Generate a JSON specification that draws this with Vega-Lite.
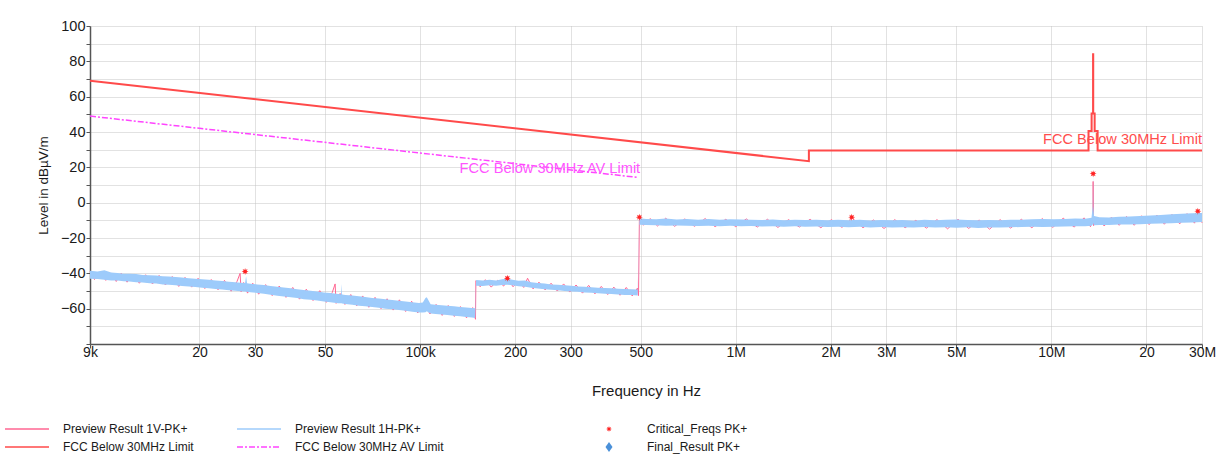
{
  "$schema": "https://vega.github.io/schema/vega-lite/v6.json",
  "width": 1112,
  "height": 318,
  "autosize": {"type": "none"},
  "padding": {"left": 90, "top": 26, "right": 29, "bottom": 114},
  "background": "white",
  "config": {
    "view": {"stroke": null},
    "font": "Liberation Sans",
    "axis": {
      "labelFont": "Liberation Sans",
      "titleFont": "Liberation Sans",
      "titleFontWeight": "normal",
      "labelColor": "#1a1a1a",
      "titleColor": "#1a1a1a",
      "domainColor": "#555555",
      "domainWidth": 1.5,
      "tickColor": "#555555",
      "tickSize": 4,
      "gridColor": "#c4c4c4",
      "gridDash": [1, 1],
      "gridWidth": 1
    }
  },
  "datasets": {
    "h": [
      {"f": 9000, "lo": -43, "hi": -38.5}, {"f": 9500, "lo": -43.2, "hi": -39}, {"f": 10000, "lo": -43.6, "hi": -38.3},
      {"f": 10500, "lo": -44, "hi": -39.5}, {"f": 11000, "lo": -44.1, "hi": -39.8}, {"f": 11500, "lo": -44.5, "hi": -40.2},
      {"f": 12000, "lo": -44.6, "hi": -40.3}, {"f": 12600, "lo": -45, "hi": -40.4}, {"f": 13200, "lo": -45.2, "hi": -40.9},
      {"f": 13900, "lo": -45.6, "hi": -41.1}, {"f": 14600, "lo": -45.8, "hi": -41.2}, {"f": 15300, "lo": -46.3, "hi": -41.6},
      {"f": 16000, "lo": -46.5, "hi": -41.8}, {"f": 16800, "lo": -46.8, "hi": -42.1}, {"f": 17600, "lo": -47.1, "hi": -42.4},
      {"f": 18500, "lo": -47.4, "hi": -42.8}, {"f": 19400, "lo": -47.8, "hi": -43}, {"f": 20400, "lo": -48.2, "hi": -43.3},
      {"f": 21400, "lo": -48.4, "hi": -43.7}, {"f": 22500, "lo": -48.9, "hi": -44}, {"f": 23600, "lo": -49.2, "hi": -44.3},
      {"f": 24800, "lo": -49.6, "hi": -44.8}, {"f": 26000, "lo": -49.9, "hi": -45}, {"f": 27000, "lo": -50.1, "hi": -45.4},
      {"f": 27900, "lo": -50.3, "hi": -45.5}, {"f": 28100, "lo": -50.4, "hi": -41.6}, {"f": 28300, "lo": -50.4, "hi": -45.6},
      {"f": 29000, "lo": -50.7, "hi": -45.9}, {"f": 30500, "lo": -51.1, "hi": -46.3}, {"f": 32000, "lo": -51.6, "hi": -46.6},
      {"f": 33600, "lo": -52.1, "hi": -47.1}, {"f": 35300, "lo": -52.7, "hi": -47.6}, {"f": 37000, "lo": -53.1, "hi": -48},
      {"f": 38900, "lo": -53.5, "hi": -48.5}, {"f": 40800, "lo": -54, "hi": -49}, {"f": 42800, "lo": -54.6, "hi": -49.4},
      {"f": 45000, "lo": -55, "hi": -49.9}, {"f": 47200, "lo": -55.4, "hi": -50.3}, {"f": 49600, "lo": -56, "hi": -50.8},
      {"f": 52000, "lo": -56.4, "hi": -51.2}, {"f": 55000, "lo": -56.9, "hi": -51.7}, {"f": 56200, "lo": -57, "hi": -51.9},
      {"f": 56400, "lo": -57, "hi": -46}, {"f": 56600, "lo": -57.1, "hi": -52}, {"f": 58000, "lo": -57.3, "hi": -52.2},
      {"f": 61000, "lo": -57.8, "hi": -52.6}, {"f": 64000, "lo": -58.3, "hi": -53}, {"f": 67000, "lo": -58.6, "hi": -53.4},
      {"f": 70500, "lo": -59.1, "hi": -53.9}, {"f": 74000, "lo": -59.5, "hi": -54.3}, {"f": 77700, "lo": -60, "hi": -54.7},
      {"f": 81600, "lo": -60.4, "hi": -55.1}, {"f": 85700, "lo": -60.8, "hi": -55.5}, {"f": 90000, "lo": -61.2, "hi": -55.9},
      {"f": 94500, "lo": -61.7, "hi": -56.4}, {"f": 99200, "lo": -62.1, "hi": -56.8}, {"f": 102000, "lo": -62.2, "hi": -56.5},
      {"f": 104000, "lo": -62, "hi": -54}, {"f": 105000, "lo": -61.5, "hi": -53.5}, {"f": 106500, "lo": -62.2, "hi": -55.5},
      {"f": 108000, "lo": -62.7, "hi": -57.5}, {"f": 112000, "lo": -63, "hi": -57.8}, {"f": 117000, "lo": -63.3, "hi": -58.1},
      {"f": 122000, "lo": -63.6, "hi": -58.4}, {"f": 128000, "lo": -64, "hi": -58.7}, {"f": 134000, "lo": -64.3, "hi": -59},
      {"f": 140000, "lo": -64.7, "hi": -59.3}, {"f": 146000, "lo": -65, "hi": -59.6}, {"f": 149500, "lo": -65.3, "hi": -59.8},
      {"f": 150500, "lo": -47, "hi": -43.8}, {"f": 158000, "lo": -47.2, "hi": -44}, {"f": 166000, "lo": -46.8, "hi": -43.6},
      {"f": 174000, "lo": -47, "hi": -44}, {"f": 182000, "lo": -46.6, "hi": -43.4}, {"f": 189000, "lo": -46.4, "hi": -43},
      {"f": 196000, "lo": -46.8, "hi": -43.6}, {"f": 205000, "lo": -47.3, "hi": -44.2}, {"f": 215000, "lo": -47.6, "hi": -44},
      {"f": 225000, "lo": -48.2, "hi": -45}, {"f": 236000, "lo": -48.6, "hi": -45.5}, {"f": 248000, "lo": -49, "hi": -45.8},
      {"f": 260000, "lo": -49.3, "hi": -46.3}, {"f": 273000, "lo": -49.6, "hi": -46.5}, {"f": 287000, "lo": -50, "hi": -46.8},
      {"f": 301000, "lo": -50.3, "hi": -47}, {"f": 316000, "lo": -50.4, "hi": -47.4}, {"f": 332000, "lo": -50.8, "hi": -47.6},
      {"f": 349000, "lo": -51, "hi": -47.9}, {"f": 366000, "lo": -51.3, "hi": -48.1}, {"f": 385000, "lo": -51.5, "hi": -48.3},
      {"f": 404000, "lo": -51.7, "hi": -48.5}, {"f": 424000, "lo": -52, "hi": -48.7}, {"f": 445000, "lo": -52.2, "hi": -48.8},
      {"f": 467000, "lo": -52.3, "hi": -49}, {"f": 489000, "lo": -52.5, "hi": -49.1},
      {"f": 495500, "lo": -12.5, "hi": -8.8}, {"f": 520000, "lo": -12.6, "hi": -9.2}, {"f": 560000, "lo": -12.8, "hi": -9.4},
      {"f": 600000, "lo": -13, "hi": -9}, {"f": 650000, "lo": -12.9, "hi": -9.5}, {"f": 700000, "lo": -13.1, "hi": -9.3},
      {"f": 760000, "lo": -13.2, "hi": -9.6}, {"f": 820000, "lo": -13, "hi": -9.2}, {"f": 890000, "lo": -13.3, "hi": -9.7},
      {"f": 960000, "lo": -13.1, "hi": -9.4}, {"f": 1040000, "lo": -13.4, "hi": -9.5}, {"f": 1120000, "lo": -13.2, "hi": -9.6},
      {"f": 1210000, "lo": -13.5, "hi": -9.8}, {"f": 1310000, "lo": -13.3, "hi": -9.5}, {"f": 1420000, "lo": -13.6, "hi": -9.9},
      {"f": 1540000, "lo": -13.4, "hi": -9.7}, {"f": 1660000, "lo": -13.7, "hi": -9.8}, {"f": 1800000, "lo": -13.5, "hi": -9.6},
      {"f": 1950000, "lo": -13.8, "hi": -10}, {"f": 2110000, "lo": -13.6, "hi": -9.7}, {"f": 2280000, "lo": -13.9, "hi": -9.9},
      {"f": 2470000, "lo": -13.7, "hi": -9.6}, {"f": 2670000, "lo": -14, "hi": -10.1}, {"f": 2890000, "lo": -13.8, "hi": -9.8},
      {"f": 3130000, "lo": -14.1, "hi": -10}, {"f": 3380000, "lo": -13.9, "hi": -9.8}, {"f": 3660000, "lo": -14, "hi": -10.2},
      {"f": 3960000, "lo": -13.8, "hi": -9.7}, {"f": 4280000, "lo": -14.1, "hi": -9.9}, {"f": 4630000, "lo": -13.9, "hi": -9.6},
      {"f": 5010000, "lo": -14.2, "hi": -9.5}, {"f": 5420000, "lo": -13.9, "hi": -9.8}, {"f": 5860000, "lo": -14.3, "hi": -10},
      {"f": 6340000, "lo": -14, "hi": -9.8}, {"f": 6860000, "lo": -14.1, "hi": -9.9}, {"f": 7420000, "lo": -13.9, "hi": -9.6},
      {"f": 8030000, "lo": -13.8, "hi": -9.7}, {"f": 8690000, "lo": -13.7, "hi": -9.4}, {"f": 9400000, "lo": -13.8, "hi": -9.3},
      {"f": 10170000, "lo": -13.6, "hi": -9.4}, {"f": 11000000, "lo": -13.5, "hi": -9.2}, {"f": 11900000, "lo": -13.3, "hi": -9},
      {"f": 12800000, "lo": -13.4, "hi": -9.1}, {"f": 13400000, "lo": -13, "hi": -8.6}, {"f": 13520000, "lo": -12.5, "hi": -2},
      {"f": 13555000, "lo": -11.5, "hi": 16.4}, {"f": 13575000, "lo": -12, "hi": -2}, {"f": 13650000, "lo": -12.8, "hi": -7.5},
      {"f": 14200000, "lo": -12.7, "hi": -8.3}, {"f": 15200000, "lo": -12.6, "hi": -8.4}, {"f": 16400000, "lo": -12.4, "hi": -8},
      {"f": 17700000, "lo": -12.3, "hi": -7.9}, {"f": 19100000, "lo": -12.2, "hi": -7.6}, {"f": 20600000, "lo": -12, "hi": -7.3},
      {"f": 22200000, "lo": -11.8, "hi": -7}, {"f": 24000000, "lo": -11.6, "hi": -6.5}, {"f": 25900000, "lo": -11.4, "hi": -6.3},
      {"f": 27900000, "lo": -11.2, "hi": -6}, {"f": 30000000, "lo": -11, "hi": -5.9}
    ],
    "p": [
      {"f": 9000, "v": -38.8}, {"f": 9300, "v": -43.5}, {"f": 9700, "v": -39.2}, {"f": 10100, "v": -44}, {"f": 10500, "v": -39.8},
      {"f": 10900, "v": -44.6}, {"f": 11300, "v": -40}, {"f": 11800, "v": -45}, {"f": 12300, "v": -40.4}, {"f": 12900, "v": -45.6},
      {"f": 13500, "v": -40.8}, {"f": 14200, "v": -46}, {"f": 14900, "v": -41.2}, {"f": 15600, "v": -46.6}, {"f": 16400, "v": -41.8},
      {"f": 17200, "v": -47.4}, {"f": 18000, "v": -42.3}, {"f": 18900, "v": -47.8}, {"f": 19800, "v": -42.8}, {"f": 20800, "v": -48.6},
      {"f": 21800, "v": -43.5}, {"f": 22900, "v": -49.3}, {"f": 24000, "v": -44}, {"f": 25200, "v": -50.1}, {"f": 26300, "v": -44.6},
      {"f": 26900, "v": -40}, {"f": 27100, "v": -50.4}, {"f": 27600, "v": -45.2}, {"f": 28400, "v": -51.2}, {"f": 29500, "v": -45.6},
      {"f": 30800, "v": -51.8}, {"f": 32400, "v": -46.4}, {"f": 34000, "v": -52.6}, {"f": 35800, "v": -47.2}, {"f": 37600, "v": -53.6},
      {"f": 39500, "v": -48}, {"f": 41500, "v": -54.6}, {"f": 43600, "v": -49}, {"f": 45800, "v": -55.4}, {"f": 48100, "v": -49.8},
      {"f": 50500, "v": -56.4}, {"f": 52700, "v": -50.8}, {"f": 53800, "v": -46}, {"f": 54200, "v": -57}, {"f": 55800, "v": -51.4},
      {"f": 57800, "v": -57.6}, {"f": 60300, "v": -52}, {"f": 63000, "v": -58.4}, {"f": 65800, "v": -52.8}, {"f": 68800, "v": -59.2},
      {"f": 72000, "v": -53.6}, {"f": 75200, "v": -60}, {"f": 78600, "v": -54.4}, {"f": 82200, "v": -60.8}, {"f": 86000, "v": -55},
      {"f": 90000, "v": -61.6}, {"f": 94000, "v": -55.8}, {"f": 98300, "v": -62.4}, {"f": 102800, "v": -56.4}, {"f": 107500, "v": -63},
      {"f": 112400, "v": -57.6}, {"f": 117500, "v": -63.8}, {"f": 122800, "v": -58.2}, {"f": 128400, "v": -64.4}, {"f": 134200, "v": -58.8},
      {"f": 140300, "v": -65.2}, {"f": 146700, "v": -59.4}, {"f": 149800, "v": -66},
      {"f": 150200, "v": -44.2}, {"f": 155000, "v": -47.6}, {"f": 161000, "v": -43.6}, {"f": 168000, "v": -47.8}, {"f": 176000, "v": -44},
      {"f": 184000, "v": -47.2}, {"f": 190000, "v": -43.2}, {"f": 197000, "v": -47.6}, {"f": 205000, "v": -44.4}, {"f": 213000, "v": -48},
      {"f": 219000, "v": -42.8}, {"f": 228000, "v": -48.8}, {"f": 238000, "v": -45}, {"f": 249000, "v": -49.4}, {"f": 260000, "v": -45.6},
      {"f": 272000, "v": -50}, {"f": 285000, "v": -46}, {"f": 298000, "v": -50.6}, {"f": 312000, "v": -46.6}, {"f": 327000, "v": -51.2},
      {"f": 342000, "v": -46.8}, {"f": 358000, "v": -51.6}, {"f": 375000, "v": -47.4}, {"f": 393000, "v": -52}, {"f": 411000, "v": -47.8},
      {"f": 430000, "v": -52.4}, {"f": 450000, "v": -48}, {"f": 470000, "v": -52.8}, {"f": 488000, "v": -48.4}, {"f": 492000, "v": -52.6},
      {"f": 495200, "v": -9.2}, {"f": 510000, "v": -12.8}, {"f": 535000, "v": -9}, {"f": 565000, "v": -13.2}, {"f": 600000, "v": -8.8},
      {"f": 640000, "v": -13.4}, {"f": 690000, "v": -9.2}, {"f": 740000, "v": -13.4}, {"f": 800000, "v": -9}, {"f": 860000, "v": -13.6},
      {"f": 930000, "v": -9.4}, {"f": 1000000, "v": -13.6}, {"f": 1080000, "v": -9.2}, {"f": 1170000, "v": -13.8}, {"f": 1260000, "v": -9.4},
      {"f": 1360000, "v": -14}, {"f": 1470000, "v": -9.6}, {"f": 1590000, "v": -13.8}, {"f": 1720000, "v": -9.4}, {"f": 1860000, "v": -14.2},
      {"f": 2010000, "v": -9.6}, {"f": 2170000, "v": -14}, {"f": 2340000, "v": -8.8}, {"f": 2530000, "v": -14.2}, {"f": 2730000, "v": -9.8},
      {"f": 2950000, "v": -14.6}, {"f": 3190000, "v": -9.6}, {"f": 3440000, "v": -14.2}, {"f": 3720000, "v": -10}, {"f": 4020000, "v": -14.4},
      {"f": 4340000, "v": -9.6}, {"f": 4690000, "v": -14.8}, {"f": 5060000, "v": -9.4}, {"f": 5470000, "v": -14.6}, {"f": 5900000, "v": -9.8},
      {"f": 6370000, "v": -15}, {"f": 6880000, "v": -9.6}, {"f": 7430000, "v": -14.4}, {"f": 8030000, "v": -9.4}, {"f": 8670000, "v": -14.2},
      {"f": 9360000, "v": -9}, {"f": 10100000, "v": -14}, {"f": 10900000, "v": -8.8}, {"f": 11800000, "v": -13.8}, {"f": 12700000, "v": -8.6},
      {"f": 13300000, "v": -13.6}, {"f": 13540000, "v": -8}, {"f": 13560000, "v": 12}, {"f": 13600000, "v": -13}, {"f": 14000000, "v": -8.4},
      {"f": 14700000, "v": -13.2}, {"f": 15500000, "v": -8.2}, {"f": 16400000, "v": -12.8}, {"f": 17300000, "v": -7.8}, {"f": 18300000, "v": -12.8},
      {"f": 19300000, "v": -7.4}, {"f": 20400000, "v": -12.4}, {"f": 21600000, "v": -7}, {"f": 22800000, "v": -12.2}, {"f": 24100000, "v": -6.6},
      {"f": 25500000, "v": -12}, {"f": 26900000, "v": -6.2}, {"f": 28400000, "v": -11.6}, {"f": 29300000, "v": -5.6}, {"f": 30000000, "v": -11.4}
    ],
    "lim": [
      {"f": 9000, "v": 69}, {"f": 1705000, "v": 23.5}, {"f": 1705000, "v": 29.5}, {"f": 13110000, "v": 29.5},
      {"f": 13110000, "v": 40.5}, {"f": 13410000, "v": 40.5}, {"f": 13410000, "v": 50.5}, {"f": 13553000, "v": 50.5},
      {"f": 13553000, "v": 84}, {"f": 13567000, "v": 84}, {"f": 13567000, "v": 50.5}, {"f": 13710000, "v": 50.5},
      {"f": 13710000, "v": 40.5}, {"f": 14010000, "v": 40.5}, {"f": 14010000, "v": 29.5}, {"f": 30000000, "v": 29.5}
    ],
    "av": [{"f": 9000, "v": 49}, {"f": 490000, "v": 14.3}],
    "crit": [
      {"f": 27900, "v": -39, "s": "Critical_Freqs PK+"}, {"f": 189000, "v": -42.8, "s": "Critical_Freqs PK+"},
      {"f": 495000, "v": -8.2, "s": "Critical_Freqs PK+"}, {"f": 2330000, "v": -8.2, "s": "Critical_Freqs PK+"},
      {"f": 13560000, "v": 16.4, "s": "Critical_Freqs PK+"}, {"f": 29100000, "v": -4.8, "s": "Critical_Freqs PK+"}
    ]
  },
  "encoding": {
    "x": {
      "field": "f", "type": "quantitative",
      "scale": {"type": "log", "domain": [9000, 30000000], "nice": false},
      "axis": {
        "title": "Frequency in Hz",
        "titleFontSize": 15,
        "titlePadding": 24,
        "labelFontSize": 14,
        "labelPadding": -3,
        "labelFlush": false,
        "labelOverlap": false,
        "grid": true,
        "values": [9000, 20000, 30000, 50000, 100000, 200000, 300000, 500000, 1000000, 2000000, 3000000, 5000000, 10000000, 20000000, 30000000],
        "labelExpr": "datum.value == 9000 ? '9k' : datum.value == 20000 ? '20' : datum.value == 30000 ? '30' : datum.value == 50000 ? '50' : datum.value == 100000 ? '100k' : datum.value == 200000 ? '200' : datum.value == 300000 ? '300' : datum.value == 500000 ? '500' : datum.value == 1000000 ? '1M' : datum.value == 2000000 ? '2M' : datum.value == 3000000 ? '3M' : datum.value == 5000000 ? '5M' : datum.value == 10000000 ? '10M' : datum.value == 20000000 ? '20' : '30M'"
      }
    },
    "y": {
      "type": "quantitative",
      "scale": {"domain": [-80, 100], "nice": false},
      "axis": {
        "title": "Level in dBµV/m",
        "titleFontSize": 13.5,
        "titlePadding": 10,
        "labelFontSize": 14.5,
        "labelPadding": 1,
        "grid": true,
        "values": [-80, -70, -60, -50, -40, -30, -20, -10, 0, 10, 20, 30, 40, 50, 60, 70, 80, 90, 100],
        "labelExpr": "(datum.value % 20 == 0 && datum.value > -80) ? datum.label : ''"
      }
    }
  },
  "layer": [
    {
      "data": {"name": "av"},
      "mark": {"type": "line", "strokeWidth": 1.5, "strokeDash": [6, 2, 2, 2]},
      "encoding": {
        "y": {"field": "v", "type": "quantitative"},
        "color": {
          "datum": "FCC Below 30MHz AV Limit", "type": "nominal",
          "scale": {"domain": ["Preview Result 1H-PK+", "FCC Below 30MHz AV Limit"], "range": ["#9dcbfb", "#ff44ff"]},
          "legend": {
            "title": null, "orient": "none", "legendX": 146, "legendY": 396, "direction": "vertical",
            "padding": 0, "symbolType": "stroke", "symbolSize": 1936, "symbolStrokeWidth": 1.5,
            "labelFont": "Liberation Sans", "labelFontSize": 12, "labelColor": "#1a1a1a", "labelOffset": 13,
            "clipHeight": 14, "rowPadding": 4, "labelLimit": 400,
            "encode": {"symbols": {"update": {
              "stroke": {"signal": "datum.value === 'FCC Below 30MHz AV Limit' ? '#ff44ff' : '#a8d0fb'"},
              "fill": {"value": "transparent"},
              "strokeDash": {"signal": "datum.value === 'FCC Below 30MHz AV Limit' ? [6, 2, 2, 2] : [1, 0]"}
            }}}
          }
        },
        "order": {"value": null}
      }
    },
    {
      "data": {"name": "lim"},
      "mark": {"type": "line", "strokeWidth": 2},
      "encoding": {
        "y": {"field": "v", "type": "quantitative"},
        "stroke": {
          "datum": "FCC Below 30MHz Limit", "type": "nominal",
          "scale": {"domain": ["Preview Result 1V-PK+", "FCC Below 30MHz Limit"], "range": ["#ff6692", "#ff4a4a"]},
          "legend": {
            "title": null, "orient": "none", "legendX": -86, "legendY": 396, "direction": "vertical",
            "padding": 0, "symbolType": "stroke", "symbolSize": 1936, "symbolStrokeWidth": 1.5,
            "labelFont": "Liberation Sans", "labelFontSize": 12, "labelColor": "#1a1a1a", "labelOffset": 13,
            "clipHeight": 14, "rowPadding": 4, "labelLimit": 400,
            "encode": {"symbols": {"update": {
              "stroke": {"signal": "datum.value === 'FCC Below 30MHz Limit' ? '#ff4040' : '#ff9bb4'"},
              "fill": {"value": "transparent"}
            }}}
          }
        },
        "order": {"value": null}
      }
    },
    {
      "data": {"name": "p"},
      "mark": {"type": "line", "strokeWidth": 1},
      "encoding": {
        "y": {"field": "v", "type": "quantitative"},
        "stroke": {"datum": "Preview Result 1V-PK+", "type": "nominal"},
        "order": {"value": null}
      }
    },
    {
      "data": {"name": "h"},
      "mark": {"type": "area", "opacity": 1},
      "encoding": {
        "y": {"field": "hi", "type": "quantitative"},
        "y2": {"field": "lo"},
        "color": {"datum": "Preview Result 1H-PK+", "type": "nominal"}
      }
    },
    {
      "data": {"name": "crit"},
      "mark": {"type": "point", "filled": true, "size": 136, "opacity": 1},
      "encoding": {
        "y": {"field": "v", "type": "quantitative"},
        "fill": {
          "field": "s", "type": "nominal",
          "scale": {"domain": ["Critical_Freqs PK+", "Final_Result PK+"], "range": ["#ff2222", "#4a90d9"]},
          "legend": null
        },
        "shape": {
          "field": "s", "type": "nominal",
          "scale": {
            "domain": ["Critical_Freqs PK+", "Final_Result PK+"],
            "range": ["M0,-0.6L0.103,-0.25L0.424,-0.424L0.25,-0.103L0.6,0L0.25,0.103L0.424,0.424L0.103,0.25L0,0.6L-0.103,0.25L-0.424,0.424L-0.25,0.103L-0.6,0L-0.25,-0.103L-0.424,-0.424L-0.103,-0.25Z", "M-0.7,0L0,-1L0.7,0L0,1Z"]
          },
          "legend": {
            "title": null, "orient": "none", "legendX": 513, "legendY": 396, "direction": "vertical",
            "padding": 0, "symbolSize": 100, "symbolStrokeWidth": 0, "symbolFillColor": "#ff2222",
            "labelFont": "Liberation Sans", "labelFontSize": 12, "labelColor": "#1a1a1a", "labelOffset": 32,
            "clipHeight": 14, "rowPadding": 4, "labelLimit": 400,
            "encode": {"symbols": {"update": {
              "fill": {"signal": "datum.value === 'Critical_Freqs PK+' ? '#ff2222' : '#4a90d9'"},
              "stroke": {"value": "transparent"},
              "opacity": {"value": 1}
            }}}
          }
        }
      }
    },
    {
      "data": {"values": [{"f": 30000000, "v": 35.2, "t": "FCC Below 30MHz Limit"}]},
      "mark": {"type": "text", "align": "right", "baseline": "middle", "font": "Liberation Sans", "fontSize": 14.6, "color": "#ff4d4d"},
      "encoding": {"y": {"field": "v", "type": "quantitative"}, "text": {"field": "t"}}
    },
    {
      "data": {"values": [{"f": 498000, "v": 18.8, "t": "FCC Below 30MHz AV Limit"}]},
      "mark": {"type": "text", "align": "right", "baseline": "middle", "font": "Liberation Sans", "fontSize": 14.6, "color": "#ff55ff"},
      "encoding": {"y": {"field": "v", "type": "quantitative"}, "text": {"field": "t"}}
    }
  ]
}
